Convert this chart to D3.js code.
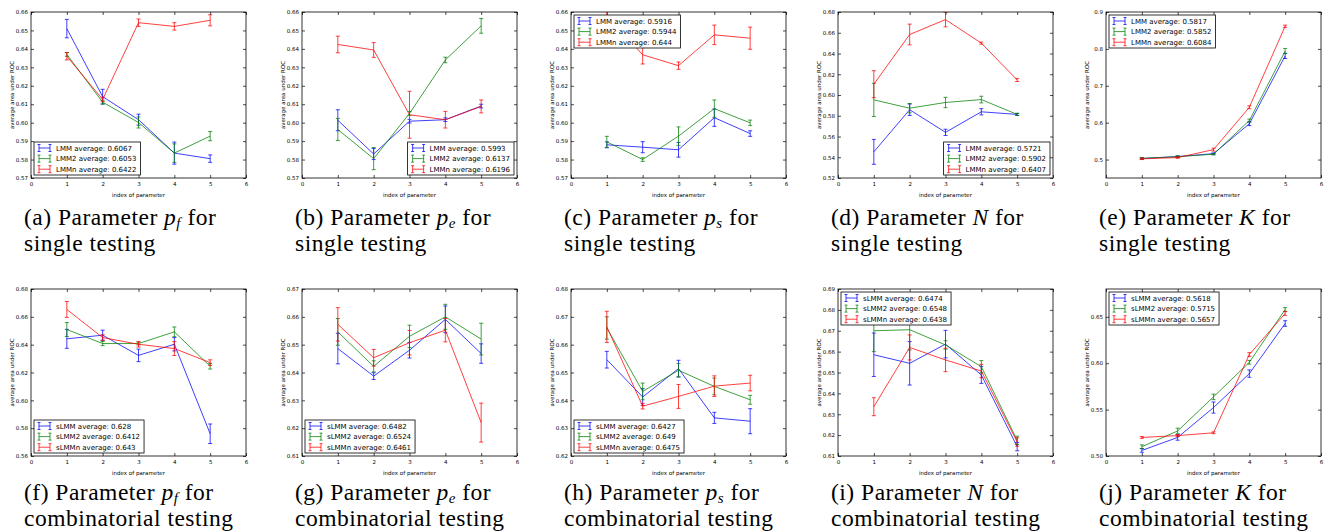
<!DOCTYPE html>
<html><head><meta charset="utf-8">
<script src="https://cdn.jsdelivr.net/npm/d3@7"></script>
<style>body{margin:0;background:#fff}svg{display:block}</style>
</head><body>
<svg id="chart" width="1325" height="532"></svg>
<script>
const paramIndex = [1,2,3,4,5];
const xTickValues = [0,1,2,3,4,5,6];
const singleNames = ["LMM","LMM2","LMMn"];
const combNames = ["sLMM","sLMM2","sLMMn"];

// (a) p_f single
const a_LMM = [0.651,0.6141,0.6016,0.5835,0.5805],  a_LMM_err = [0.005,0.004,0.003,0.006,0.002];
const a_LMM2 = [0.637,0.6111,0.6001,0.5835,0.5927], a_LMM2_err = [0.001,0.001,0.003,0.005,0.0025];
const a_LMMn = [0.636,0.6126,0.6542,0.6522,0.6555], a_LMMn_err = [0.002,0.0012,0.002,0.002,0.003];
const a_legend = ["LMM average: 0.6067","LMM2 average: 0.6053","LMMn average: 0.6422"];
const a_yticks = [0.57,0.58,0.59,0.60,0.61,0.62,0.63,0.64,0.65,0.66];
// (b) p_e single
const b_LMM = [0.6013,0.583,0.6008,0.6016,0.609],   b_LMM_err = [0.0057,0.003,0.001,0.001,0.001];
const b_LMM2 = [0.5963,0.5805,0.605,0.634,0.6525],  b_LMM2_err = [0.006,0.006,0.001,0.0015,0.004];
const b_LMMn = [0.6424,0.6394,0.6043,0.6016,0.6088], b_LMMn_err = [0.0045,0.004,0.0127,0.0045,0.0035];
const b_legend = ["LMM average: 0.5993","LMM2 average: 0.6137","LMMn average: 0.6196"];
const b_yticks = [0.57,0.58,0.59,0.60,0.61,0.62,0.63,0.64,0.65,0.66];
// (c) p_s single
const c_LMM = [0.588,0.5867,0.5853,0.6027,0.5941],  c_LMM_err = [0.0016,0.003,0.004,0.0047,0.0015];
const c_LMM2 = [0.5896,0.580,0.5927,0.6076,0.5999], c_LMM2_err = [0.003,0.001,0.005,0.0047,0.0015];
const c_LMMn = [0.6585,0.6368,0.6309,0.6476,0.6458], c_LMMn_err = [0.003,0.005,0.002,0.0053,0.006];
const c_legend = ["LMM average: 0.5916","LMM2 average: 0.5944","LMMn average: 0.644"];
const c_yticks = [0.57,0.58,0.59,0.60,0.61,0.62,0.63,0.64,0.65,0.66];
// (d) N single
const d_LMM = [0.5452,0.5858,0.564,0.5838,0.5813],  d_LMM_err = [0.012,0.0055,0.003,0.003,0.001];
const d_LMM2 = [0.5953,0.5873,0.5928,0.5956,0.5813], d_LMM2_err = [0.016,0.0045,0.005,0.0032,0.001];
const d_LMMn = [0.6104,0.6583,0.6727,0.65,0.6145], d_LMMn_err = [0.013,0.01,0.007,0.001,0.0015];
const d_legend = ["LMM average: 0.5721","LMM2 average: 0.5902","LMMn average: 0.6407"];
const d_yticks = [0.52,0.54,0.56,0.58,0.60,0.62,0.64,0.66,0.68];
// (e) K single
const e_LMM = [0.503,0.508,0.516,0.597,0.781],      e_LMM_err = [0.002,0.002,0.002,0.005,0.007];
const e_LMM2 = [0.503,0.508,0.5144,0.6058,0.7942],  e_LMM2_err = [0.002,0.002,0.002,0.004,0.007];
const e_LMMn = [0.502,0.5054,0.527,0.6417,0.8614],  e_LMMn_err = [0.002,0.002,0.004,0.004,0.003];
const e_legend = ["LMM average: 0.5817","LMM2 average: 0.5852","LMMn average: 0.6084"];
const e_yticks = [0.5,0.6,0.7,0.8,0.9];
// (f) p_f combinatorial
const f_sLMM = [0.6442,0.6468,0.6323,0.6403,0.576],  f_sLMM_err = [0.0068,0.0036,0.0045,0.0048,0.007];
const f_sLMM2 = [0.6509,0.6408,0.6408,0.6492,0.6245], f_sLMM2_err = [0.005,0.0015,0.001,0.0035,0.002];
const f_sLMMn = [0.6653,0.6451,0.6403,0.6372,0.6271], f_sLMMn_err = [0.0057,0.002,0.002,0.005,0.002];
const f_legend = ["sLMM average: 0.628","sLMM2 average: 0.6412","sLMMn average: 0.643"];
const f_yticks = [0.56,0.58,0.60,0.62,0.64,0.66,0.68];
// (g) p_e combinatorial
const g_sLMM = [0.6486,0.6387,0.648,0.6591,0.6468],  g_sLMM_err = [0.0055,0.0012,0.0028,0.0048,0.0035];
const g_sLMM2 = [0.6546,0.6422,0.653,0.66,0.652],    g_sLMM2_err = [0.0048,0.002,0.004,0.0045,0.0057];
const g_sLMMn = [0.6573,0.6453,0.6507,0.6552,0.622], g_sLMMn_err = [0.006,0.003,0.0044,0.0042,0.007];
const g_legend = ["sLMM average: 0.6482","sLMM2 average: 0.6524","sLMMn average: 0.6461"];
const g_yticks = [0.61,0.62,0.63,0.64,0.65,0.66,0.67];
// (h) p_s combinatorial
const h_sLMM = [0.6546,0.6412,0.6514,0.6337,0.6325],  h_sLMM_err = [0.003,0.003,0.003,0.002,0.0045];
const h_sLMM2 = [0.666,0.6432,0.6508,0.645,0.6402],   h_sLMM2_err = [0.004,0.003,0.0024,0.003,0.0016];
const h_sLMMn = [0.6664,0.6379,0.6414,0.6451,0.6462], h_sLMMn_err = [0.0056,0.001,0.0043,0.0037,0.0028];
const h_legend = ["sLMM average: 0.6427","sLMM2 average: 0.649","sLMMn average: 0.6475"];
const h_yticks = [0.62,0.63,0.64,0.65,0.66,0.67,0.68];
// (i) N combinatorial
const i_sLMM = [0.6585,0.6544,0.6636,0.6488,0.6145],  i_sLMM_err = [0.0104,0.0104,0.0066,0.004,0.002];
const i_sLMM2 = [0.67,0.6705,0.6632,0.6528,0.6175],   i_sLMM2_err = [0.01,0.0097,0.002,0.0029,0.002];
const i_sLMMn = [0.6336,0.662,0.656,0.6507,0.6167],   i_sLMMn_err = [0.0043,0.006,0.0056,0.0032,0.002];
const i_legend = ["sLMM average: 0.6474","sLMM2 average: 0.6548","sLMMn average: 0.6438"];
const i_yticks = [0.61,0.62,0.63,0.64,0.65,0.66,0.67,0.68,0.69];
// (j) K combinatorial
const j_sLMM = [0.506,0.520,0.5522,0.5888,0.6428],  j_sLMM_err = [0.002,0.003,0.006,0.004,0.003];
const j_sLMM2 = [0.510,0.527,0.5637,0.601,0.6579],  j_sLMM2_err = [0.002,0.003,0.003,0.002,0.002];
const j_sLMMn = [0.520,0.522,0.525,0.6094,0.6536],  j_sLMMn_err = [0.001,0.001,0.001,0.002,0.002];
const j_legend = ["sLMM average: 0.5618","sLMM2 average: 0.5715","sLMMn average: 0.5657"];
const j_yticks = [0.50,0.55,0.60,0.65];

const captionLetters = ["a","b","c","d","e","f","g","h","i","j"];
const captionSymbols = [["p","f"],["p","e"],["p","s"],["N",""],["K",""],["p","f"],["p","e"],["p","s"],["N",""],["K",""]];
const captionSecond = ["single testing","combinatorial testing"];

// ---------- layout (not data) ----------
const colLeft = [31, 302, 571, 838, 1106];
const plotW = 215;
const rowTop = [12, 289], rowBottom = [178, 456];
const capLine1 = [225, 500], capLine2 = [251, 526];
const capSize = 23.5;
const colors = ["#0000ff","#008000","#ff0000"];

const panels = [
  {means:[a_LMM,a_LMM2,a_LMMn], errs:[a_LMM_err,a_LMM2_err,a_LMMn_err], legend:a_legend, yticks:a_yticks, ydom:[0.57,0.66], fmt:".2f", leg:"ll"},
  {means:[b_LMM,b_LMM2,b_LMMn], errs:[b_LMM_err,b_LMM2_err,b_LMMn_err], legend:b_legend, yticks:b_yticks, ydom:[0.57,0.66], fmt:".2f", leg:"lr"},
  {means:[c_LMM,c_LMM2,c_LMMn], errs:[c_LMM_err,c_LMM2_err,c_LMMn_err], legend:c_legend, yticks:c_yticks, ydom:[0.57,0.66], fmt:".2f", leg:"ul"},
  {means:[d_LMM,d_LMM2,d_LMMn], errs:[d_LMM_err,d_LMM2_err,d_LMMn_err], legend:d_legend, yticks:d_yticks, ydom:[0.52,0.68], fmt:".2f", leg:"lr"},
  {means:[e_LMM,e_LMM2,e_LMMn], errs:[e_LMM_err,e_LMM2_err,e_LMMn_err], legend:e_legend, yticks:e_yticks, ydom:[0.45,0.9], fmt:".1f", leg:"ul"},
  {means:[f_sLMM,f_sLMM2,f_sLMMn], errs:[f_sLMM_err,f_sLMM2_err,f_sLMMn_err], legend:f_legend, yticks:f_yticks, ydom:[0.56,0.68], fmt:".2f", leg:"ll"},
  {means:[g_sLMM,g_sLMM2,g_sLMMn], errs:[g_sLMM_err,g_sLMM2_err,g_sLMMn_err], legend:g_legend, yticks:g_yticks, ydom:[0.61,0.67], fmt:".2f", leg:"ll"},
  {means:[h_sLMM,h_sLMM2,h_sLMMn], errs:[h_sLMM_err,h_sLMM2_err,h_sLMMn_err], legend:h_legend, yticks:h_yticks, ydom:[0.62,0.68], fmt:".2f", leg:"ll"},
  {means:[i_sLMM,i_sLMM2,i_sLMMn], errs:[i_sLMM_err,i_sLMM2_err,i_sLMMn_err], legend:i_legend, yticks:i_yticks, ydom:[0.61,0.69], fmt:".2f", leg:"ul"},
  {means:[j_sLMM,j_sLMM2,j_sLMMn], errs:[j_sLMM_err,j_sLMM2_err,j_sLMMn_err], legend:j_legend, yticks:j_yticks, ydom:[0.50,0.68], fmt:".2f", leg:"ul"}
];

const svg = d3.select("#chart");
const tickFont = "DejaVu Sans";

panels.forEach((p, k) => {
  const row = Math.floor(k / 5), col = k % 5;
  const L = colLeft[col], R = L + plotW, T = rowTop[row], B = rowBottom[row];
  const x = d3.scaleLinear().domain([0, 6]).range([L, R]);
  const y = d3.scaleLinear().domain(p.ydom).range([B, T]);
  const g = svg.append("g");

  const clipId = "clip" + k;
  svg.append("clipPath").attr("id", clipId).append("rect")
    .attr("x", L).attr("y", T).attr("width", R - L).attr("height", B - T);

  const fmt = d3.format(p.fmt);
  const axL = d3.axisLeft(y).tickValues(p.yticks).tickFormat(fmt).tickSizeInner(-3).tickSizeOuter(0).tickPadding(3);
  const axR = d3.axisRight(y).tickValues(p.yticks).tickFormat("").tickSizeInner(-3).tickSizeOuter(0);
  const axB = d3.axisBottom(x).tickValues(xTickValues).tickFormat(d3.format("d")).tickSizeInner(-3).tickSizeOuter(0).tickPadding(4);
  const axT = d3.axisTop(x).tickValues(xTickValues).tickFormat("").tickSizeInner(-3).tickSizeOuter(0);
  const style = sel => {
    sel.select(".domain").remove();
    sel.selectAll("line").attr("stroke", "#000").attr("stroke-width", 0.7);
    sel.selectAll("text").attr("font-family", tickFont).attr("font-size", 5.5).attr("fill", "#000");
  };
  g.append("g").attr("transform", `translate(${L},0)`).call(axL).call(style);
  g.append("g").attr("transform", `translate(${R},0)`).call(axR).call(style);
  g.append("g").attr("transform", `translate(0,${B})`).call(axB).call(style);
  g.append("g").attr("transform", `translate(0,${T})`).call(axT).call(style);

  g.append("text").attr("x", (L + R) / 2).attr("y", B + 19)
    .attr("text-anchor", "middle").attr("font-family", tickFont).attr("font-size", 5.5)
    .text("index of parameter");
  g.append("text").attr("transform", `translate(${L - 17},${(T + B) / 2}) rotate(-90)`)
    .attr("text-anchor", "middle").attr("font-family", tickFont).attr("font-size", 5.5)
    .text("average area under ROC");

  const dg = g.append("g").attr("clip-path", `url(#${clipId})`);
  const line = d3.line().x((d, i) => x(paramIndex[i])).y(d => y(d));
  p.means.forEach((m, s) => {
    const c = colors[s];
    const sg = dg.append("g").attr("stroke", c).attr("fill", "none").attr("stroke-opacity", 0.75);
    sg.append("path").datum(m).attr("d", line).attr("stroke-width", 1);
    m.forEach((v, i) => {
      const e = p.errs[s][i];
      const xx = x(paramIndex[i]);
      sg.append("line").attr("x1", xx).attr("x2", xx).attr("y1", y(v - e)).attr("y2", y(v + e)).attr("stroke-width", 1);
      [v - e, v + e].forEach(cv => {
        sg.append("line").attr("x1", xx - 2).attr("x2", xx + 2).attr("y1", y(cv)).attr("y2", y(cv)).attr("stroke-width", 1);
      });
    });
  });

  g.append("rect").attr("x", L).attr("y", T).attr("width", R - L).attr("height", B - T)
    .attr("fill", "none").attr("stroke", "#000").attr("stroke-width", 0.8);

  const lg = g.append("g");
  const texts = p.legend.map((t, i) => lg.append("text").attr("font-family", tickFont).attr("font-size", 7).text(t));
  const maxW = d3.max(texts, t => t.node().getComputedTextLength());
  const boxW = 22 + maxW + 4, boxH = 33;
  const bx = p.leg.endsWith("r") ? R - 3 - boxW : L + 3;
  const by = p.leg.startsWith("u") ? T + 3 : B - 3 - boxH;
  lg.insert("rect", "text").attr("x", bx).attr("y", by).attr("width", boxW).attr("height", boxH)
    .attr("fill", "#fff").attr("stroke", "#000").attr("stroke-width", 0.8);
  texts.forEach((t, i) => {
    const cy = by + 6 + i * 10.6;
    t.attr("x", bx + 22).attr("y", cy + 2.5);
    const hx0 = bx + 5, hx1 = bx + 16;
    const hg = lg.append("g").attr("stroke", colors[i]).attr("stroke-opacity", 0.75).attr("stroke-width", 1);
    hg.append("line").attr("x1", hx0).attr("x2", hx1).attr("y1", cy).attr("y2", cy);
    [hx0, hx1].forEach(hx => {
      hg.append("line").attr("x1", hx).attr("x2", hx).attr("y1", cy - 3.5).attr("y2", cy + 3.5);
      hg.append("line").attr("x1", hx - 1.5).attr("x2", hx + 1.5).attr("y1", cy - 3.5).attr("y2", cy - 3.5);
      hg.append("line").attr("x1", hx - 1.5).attr("x2", hx + 1.5).attr("y1", cy + 3.5).attr("y2", cy + 3.5);
    });
  });

  const cx = L - 7;
  const cap = g.append("text").attr("x", cx).attr("y", capLine1[row])
    .attr("font-family", "Liberation Serif").attr("font-size", capSize).attr("letter-spacing", 0.5).attr("fill", "#000");
  cap.append("tspan").text(`(${captionLetters[k]}) Parameter `);
  const sym = captionSymbols[k];
  cap.append("tspan").attr("font-style", "italic").text(sym[0]);
  if (sym[1]) {
    cap.append("tspan").attr("font-style", "italic").attr("font-size", 15).attr("dy", 2.5).text(sym[1]);
    cap.append("tspan").attr("dy", -2.5).text(" for");
  } else {
    cap.append("tspan").text(" for");
  }
  g.append("text").attr("x", cx).attr("y", capLine2[row])
    .attr("font-family", "Liberation Serif").attr("font-size", capSize).attr("letter-spacing", 0.5).attr("fill", "#000")
    .text(captionSecond[row]);
});
</script>
</body></html>
